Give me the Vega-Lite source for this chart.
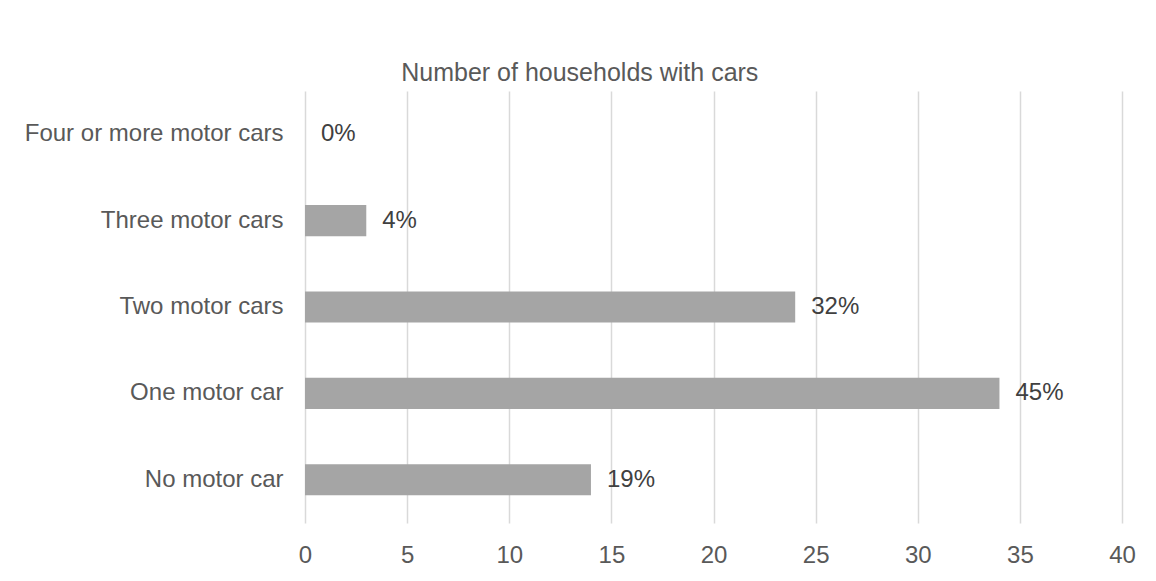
{
  "$schema": "https://vega.github.io/schema/vega-lite/v6.json",
  "width": 817,
  "height": 432,
  "autosize": {"type": "none"},
  "padding": {"left": 305, "top": 91, "right": 34, "bottom": 58},
  "background": "white",
  "title": {
    "text": "Number of households with cars",
    "frame": "bounds",
    "anchor": "middle",
    "font": "Liberation Sans",
    "fontSize": 25,
    "fontWeight": "normal",
    "color": "#595959",
    "offset": 5
  },
  "data": {
    "values": [
      {"category": "No motor car", "households": 14, "label": "19%"},
      {"category": "One motor car", "households": 34, "label": "45%"},
      {"category": "Two motor cars", "households": 24, "label": "32%"},
      {"category": "Three motor cars", "households": 3, "label": "4%"},
      {"category": "Four or more motor cars", "households": 0, "label": "0%"}
    ]
  },
  "encoding": {
    "y": {
      "field": "category",
      "type": "nominal",
      "sort": ["Four or more motor cars", "Three motor cars", "Two motor cars", "One motor car", "No motor car"],
      "scale": {"paddingInner": 0.64, "paddingOuter": 0.32},
      "axis": {
        "title": null,
        "domain": false,
        "ticks": false,
        "labelPadding": 22,
        "labelLimit": 400,
        "labelFont": "Liberation Sans",
        "labelFontSize": 24,
        "labelColor": "#595959"
      }
    },
    "x": {
      "field": "households",
      "type": "quantitative",
      "scale": {"domain": [0, 40], "nice": false},
      "axis": {
        "title": null,
        "values": [0, 5, 10, 15, 20, 25, 30, 35, 40],
        "domain": false,
        "ticks": false,
        "labelFlush": false,
        "labelPadding": 20,
        "labelFont": "Liberation Sans",
        "labelFontSize": 24,
        "labelColor": "#595959",
        "gridColor": "#d9d9d9",
        "gridWidth": 1.5
      }
    }
  },
  "layer": [
    {"mark": {"type": "bar", "color": "#a5a5a5"}},
    {
      "mark": {"type": "text", "align": "left", "baseline": "middle", "dx": 16, "font": "Liberation Sans", "fontSize": 24, "color": "#404040"},
      "encoding": {"text": {"field": "label"}}
    }
  ],
  "config": {"view": {"stroke": null}}
}
